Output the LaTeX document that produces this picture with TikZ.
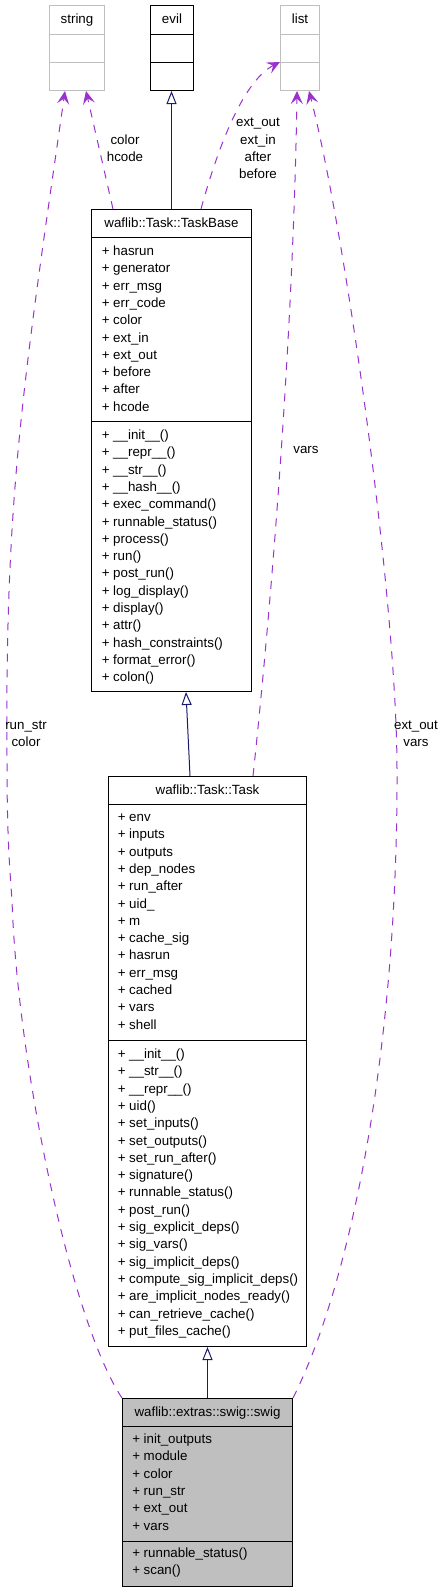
\documentclass[tikz,border=0pt]{standalone}
\usepackage{fontspec}
\setmainfont{Liberation Sans}
\usetikzlibrary{arrows.meta}
\definecolor{depcol}{HTML}{9A32CD}
\definecolor{inhcol}{HTML}{191970}
\definecolor{boxgrey}{HTML}{BFBFBF}
\tikzset{
  classbox/.style={draw=black, line width=0.75pt, inner sep=0pt, anchor=north west},
  ghostbox/.style={classbox, draw=boxgrey},
  cname/.style={anchor=base, inner sep=0pt, font=\fontsize{10pt}{13pt}\selectfont},
  member/.style={anchor=base west, inner sep=0pt, font=\fontsize{10pt}{13pt}\selectfont},
  edgelbl/.style={align=center, inner sep=0pt, font=\fontsize{10pt}{12.975pt}\selectfont},
  uses/.style={draw=depcol, line width=0.75pt, dash pattern=on 6pt off 5.75pt,
    -{Stealth[length=9.75pt, width=9pt, inset=4pt]}},
  isa/.style={draw=inhcol, line width=0.75pt, -{Triangle[open, length=9.75pt, width=7.5pt]}}
}
\begin{document}
\begin{tikzpicture}[x=0.75pt,y=-0.75pt]
\useasboundingbox (0,0) rectangle (445,1592);
% outside classes
\node[ghostbox, minimum width=41.25pt, minimum height=63.75pt] (string) at (49,5) {};
\node[classbox, minimum width=32.25pt, minimum height=63.75pt] (evil) at (150,5) {};
\node[ghostbox, minimum width=29.25pt, minimum height=63.75pt] (list) at (280,5) {};
\foreach \b/\c in {string/boxgrey, evil/black, list/boxgrey} {
  \draw[\c, line width=0.75pt] (\b.west |- 0,34) -- (\b.east |- 0,34);
  \draw[\c, line width=0.75pt] (\b.west |- 0,62) -- (\b.east |- 0,62);
}
\node[cname] (string-name) at (string.north |- 0,23) {string};
\node[cname] (evil-name) at (evil.north |- 0,23) {evil};
\node[cname] (list-name) at (list.north |- 0,23) {list};
% waflib::Task::TaskBase
\node[classbox, minimum width=120pt, minimum height=361.5pt] (taskbase) at (91,209) {};
\draw[line width=0.75pt] (taskbase.west |- 0,237) -- (taskbase.east |- 0,237);
\draw[line width=0.75pt] (taskbase.west |- 0,421) -- (taskbase.east |- 0,421);
\node[cname] (taskbase-name) at (taskbase.north |- 0,227.5) {waflib::Task::TaskBase};
\foreach \m [count=\i from 0] in {hasrun, generator, err\_msg, err\_code, color, ext\_in,
  ext\_out, before, after, hcode}
  \node[member] (tb-a\i) at (101.5, 255.5+17.3*\i) {+ \m};
\foreach \m [count=\i from 0] in {\_\_init\_\_(), \_\_repr\_\_(), \_\_str\_\_(), \_\_hash\_\_(),
  exec\_command(), runnable\_status(), process(), run(), post\_run(), log\_display(),
  display(), attr(), hash\_constraints(), format\_error(), colon()}
  \node[member] (tb-m\i) at (101.5, 439.5+17.3*\i) {+ \m};
% waflib::Task::Task
\node[classbox, minimum width=148.5pt, minimum height=427.5pt] (task) at (108,776) {};
\draw[line width=0.75pt] (task.west |- 0,804) -- (task.east |- 0,804);
\draw[line width=0.75pt] (task.west |- 0,1040) -- (task.east |- 0,1040);
\node[cname] (task-name) at (task.north |- 0,794.5) {waflib::Task::Task};
\foreach \m [count=\i from 0] in {env, inputs, outputs, dep\_nodes, run\_after, uid\_, m,
  cache\_sig, hasrun, err\_msg, cached, vars, shell}
  \node[member] (t-a\i) at (117.5, 821.5+17.3*\i) {+ \m};
\foreach \m [count=\i from 0] in {\_\_init\_\_(), \_\_str\_\_(), \_\_repr\_\_(), uid(),
  set\_inputs(), set\_outputs(), set\_run\_after(), signature(), runnable\_status(),
  post\_run(), sig\_explicit\_deps(), sig\_vars(), sig\_implicit\_deps(),
  compute\_sig\_implicit\_deps(), are\_implicit\_nodes\_ready(), can\_retrieve\_cache(),
  put\_files\_cache()}
  \node[member] (t-m\i) at (117.5, 1058.5+17.3*\i) {+ \m};
% waflib::extras::swig::swig
\node[classbox, fill=boxgrey, minimum width=127.5pt, minimum height=141pt] (swig) at (122,1398) {};
\draw[line width=0.75pt] (swig.west |- 0,1426) -- (swig.east |- 0,1426);
\draw[line width=0.75pt] (swig.west |- 0,1541) -- (swig.east |- 0,1541);
\node[cname] (swig-name) at (swig.north |- 0,1416.5) {waflib::extras::swig::swig};
\foreach \m [count=\i from 0] in {init\_outputs, module, color, run\_str, ext\_out, vars}
  \node[member] (s-a\i) at (132, 1443.5+17.3*\i) {+ \m};
\foreach \m [count=\i from 0] in {runnable\_status(), scan()}
  \node[member] (s-m\i) at (132, 1557.5+17.3*\i) {+ \m};
% inheritance
\draw[isa] (taskbase.north) -- (taskbase.north |- evil.south);
\draw[isa] (190,0 |- task.north) -- (186,0 |- taskbase.south);
\draw[isa] (swig.north) -- (task.south);
% usage
\draw[uses] (113,0 |- taskbase.north) -- (86,0 |- string.south);
\draw[uses] (201,0 |- taskbase.north) .. controls (220,140) and (245,80) .. (list.west |- 0,62);
\draw[uses] (253,0 |- task.north) .. controls (276,560) and (294,300) .. (297,0 |- list.south);
\draw[uses] (swig.north west) .. controls (70,1320) and (17,1060) .. (12,900)
  .. controls (9,860) and (7,830) .. (7,760)
  .. controls (5,500) and (22,390) .. (65,0 |- string.south);
\draw[uses] (swig.north east) .. controls (350,1285) and (398,1050) .. (397,770)
  .. controls (397,600) and (345,230) .. (309,0 |- list.south);
\node[edgelbl] (lbl-hcode) at (125,148) {color\\hcode};
\node[edgelbl] (lbl-ext) at (258,148.5) {ext\_out\\ext\_in\\after\\before};
\node[edgelbl] (lbl-vars) at (306,450) {vars};
\node[edgelbl] (lbl-runstr) at (26,734) {run\_str\\color};
\node[edgelbl] (lbl-extvars) at (416,734) {ext\_out\\vars};
\end{tikzpicture}
\end{document}
